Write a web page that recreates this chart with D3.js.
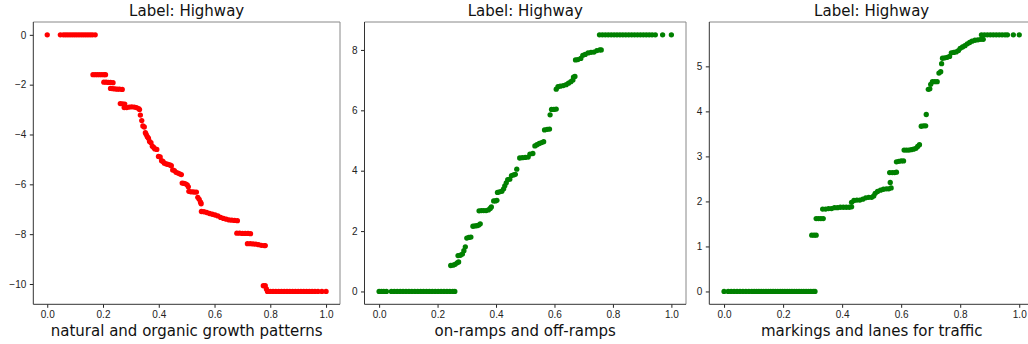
<!DOCTYPE html>
<html>
<head>
<meta charset="utf-8">
<script src="https://cdn.jsdelivr.net/npm/d3@7"></script>
<style>
    body { margin: 0; background: #fff; }
    svg { display: block; font-family: 'DejaVu Sans', sans-serif; }
    .tick text { fill: #222; font-size: 10px; }
    .tick line { stroke: #222; }
</style>
</head>
<body>
<div class="container"></div>
<script>
const title = 'Label: Highway'
const features = ['natural and organic growth patterns', 'on-ramps and off-ramps', 'markings and lanes for traffic']
const colours = ['#ff0000', '#008000', '#008000']
const xTicks = [0, 0.2, 0.4, 0.6, 0.8, 1.0]
const yTicksGrowth = [0, -2, -4, -6, -8, -10]
const yTicksRamps = [0, 2, 4, 6, 8]
const yTicksLanes = [0, 1, 2, 3, 4, 5]

// [feature value, effect] pairs
const growthPoints = [
    [0, 0],
    [0.047, 0], [0.058, 0], [0.066, 0], [0.074, 0], [0.082, 0], [0.09, 0], [0.098, 0], [0.106, 0], [0.114, 0], [0.122, 0], [0.13, 0], [0.138, 0], [0.146, 0], [0.154, 0], [0.162, 0], [0.172, 0],
    [0.164, -1.6], [0.172, -1.6], [0.18, -1.6], [0.188, -1.6], [0.196, -1.6], [0.204, -1.6], [0.209, -1.6],
    [0.203, -1.9], [0.211, -1.9], [0.219, -1.91], [0.227, -1.91], [0.236, -1.92],
    [0.227, -2.15], [0.235, -2.16], [0.243, -2.17], [0.251, -2.18], [0.259, -2.18], [0.269, -2.19],
    [0.262, -2.76], [0.27, -2.77], [0.278, -2.78],
    [0.276, -2.92], [0.285, -2.92], [0.294, -2.9], [0.303, -2.89], [0.312, -2.9], [0.32, -2.92], [0.328, -2.96], [0.331, -3.0],
    [0.334, -3.22], [0.339, -3.44], [0.343, -3.66], [0.348, -3.7], [0.352, -3.93], [0.355, -4.0], [0.359, -4.09], [0.363, -4.15],
    [0.367, -4.28], [0.372, -4.33], [0.377, -4.47], [0.382, -4.52], [0.386, -4.58], [0.393, -4.6], [0.399, -4.88], [0.405, -4.9],
    [0.41, -5.05], [0.415, -5.08], [0.42, -5.15], [0.427, -5.18], [0.433, -5.2], [0.44, -5.22], [0.445, -5.25], [0.45, -5.42],
    [0.456, -5.45], [0.462, -5.52], [0.469, -5.55], [0.475, -5.58], [0.481, -5.61],
    [0.484, -5.95], [0.49, -5.96], [0.496, -5.98], [0.502, -6.02], [0.506, -6.1], [0.508, -6.28], [0.515, -6.3], [0.522, -6.3],
    [0.528, -6.31], [0.535, -6.31], [0.54, -6.52], [0.545, -6.6], [0.55, -6.72], [0.552, -6.78],
    [0.553, -7.09], [0.562, -7.1], [0.572, -7.13], [0.582, -7.17], [0.592, -7.2], [0.602, -7.23], [0.612, -7.27], [0.622, -7.33],
    [0.632, -7.37], [0.642, -7.4], [0.652, -7.43], [0.662, -7.44], [0.672, -7.45], [0.682, -7.46],
    [0.68, -7.96], [0.69, -7.96], [0.7, -7.97], [0.71, -7.97], [0.72, -7.97], [0.729, -7.98],
    [0.718, -8.38], [0.728, -8.38], [0.738, -8.39], [0.748, -8.4], [0.758, -8.42], [0.768, -8.45], [0.778, -8.46], [0.782, -8.46],
    [0.775, -10.07], [0.782, -10.07], [0.786, -10.2],
    [0.79, -10.3], [0.8, -10.3], [0.81, -10.3], [0.82, -10.3], [0.83, -10.3], [0.84, -10.3], [0.85, -10.3], [0.86, -10.3],
    [0.87, -10.3], [0.88, -10.3], [0.89, -10.3], [0.9, -10.3], [0.91, -10.3], [0.92, -10.3], [0.93, -10.3], [0.94, -10.3],
    [0.95, -10.3], [0.96, -10.3], [0.971, -10.3], [0.985, -10.3], [1.0, -10.3]
]

const rampsPoints = [
    [0, 0], [0.008, 0], [0.016, 0], [0.025, 0],
    [0.042, 0], [0.052, 0], [0.062, 0], [0.072, 0], [0.082, 0], [0.092, 0], [0.102, 0], [0.112, 0], [0.122, 0], [0.132, 0],
    [0.142, 0], [0.152, 0], [0.162, 0], [0.172, 0], [0.182, 0], [0.192, 0], [0.202, 0], [0.212, 0], [0.222, 0], [0.232, 0],
    [0.242, 0], [0.252, 0], [0.259, 0],
    [0.245, 0.86], [0.253, 0.87], [0.26, 0.9], [0.267, 0.95], [0.272, 0.98],
    [0.27, 1.19], [0.278, 1.2], [0.285, 1.24], [0.29, 1.35], [0.295, 1.48],
    [0.3, 1.77], [0.307, 1.79], [0.314, 1.8],
    [0.321, 2.16], [0.328, 2.17], [0.335, 2.18], [0.341, 2.2], [0.346, 2.24],
    [0.342, 2.67], [0.35, 2.68], [0.358, 2.68], [0.366, 2.68], [0.374, 2.7], [0.38, 2.75], [0.384, 2.8],
    [0.392, 3.0], [0.398, 3.0], [0.403, 3.02],
    [0.405, 3.28], [0.412, 3.3], [0.42, 3.32], [0.426, 3.4], [0.43, 3.5], [0.435, 3.6], [0.44, 3.7], [0.447, 3.72],
    [0.453, 3.84], [0.46, 3.86], [0.466, 3.88], [0.471, 4.05],
    [0.481, 4.42], [0.49, 4.43], [0.5, 4.44], [0.51, 4.45], [0.516, 4.55], [0.526, 4.57],
    [0.533, 4.82], [0.54, 4.86], [0.548, 4.9], [0.556, 4.93], [0.563, 4.96],
    [0.566, 5.35], [0.575, 5.37], [0.583, 5.38],
    [0.585, 5.85],
    [0.59, 6.03], [0.598, 6.03], [0.606, 6.04],
    [0.606, 6.7], [0.612, 6.78], [0.62, 6.8], [0.63, 6.82], [0.64, 6.85], [0.648, 6.9], [0.656, 6.95], [0.663, 7.0],
    [0.665, 7.1], [0.67, 7.12],
    [0.672, 7.67], [0.68, 7.68], [0.69, 7.72], [0.697, 7.82], [0.705, 7.85], [0.715, 7.9], [0.725, 7.92], [0.735, 7.93],
    [0.745, 7.98], [0.755, 8.0], [0.76, 8.0],
    [0.754, 8.5], [0.764, 8.5], [0.774, 8.5], [0.784, 8.5], [0.794, 8.5], [0.804, 8.5], [0.814, 8.5], [0.824, 8.5],
    [0.834, 8.5], [0.844, 8.5], [0.854, 8.5], [0.864, 8.5], [0.874, 8.5], [0.884, 8.5], [0.894, 8.5], [0.904, 8.5],
    [0.914, 8.5], [0.924, 8.5], [0.934, 8.5], [0.945, 8.5], [0.97, 8.5], [1.0, 8.5]
]

const lanesPoints = [
    [0, 0], [0.014, 0], [0.024, 0], [0.034, 0], [0.044, 0], [0.054, 0], [0.064, 0], [0.074, 0], [0.084, 0], [0.094, 0],
    [0.102, 0], [0.11, 0], [0.118, 0], [0.126, 0], [0.134, 0], [0.142, 0], [0.15, 0], [0.158, 0], [0.166, 0], [0.174, 0],
    [0.182, 0], [0.19, 0], [0.198, 0], [0.206, 0], [0.214, 0], [0.222, 0], [0.23, 0], [0.238, 0], [0.246, 0], [0.254, 0],
    [0.262, 0], [0.27, 0], [0.278, 0], [0.286, 0], [0.294, 0], [0.302, 0], [0.308, 0],
    [0.297, 1.25], [0.305, 1.25], [0.312, 1.25],
    [0.312, 1.62], [0.32, 1.62], [0.328, 1.62], [0.336, 1.62],
    [0.334, 1.83], [0.344, 1.83], [0.354, 1.84], [0.364, 1.84], [0.374, 1.86], [0.384, 1.86], [0.394, 1.87], [0.404, 1.87],
    [0.414, 1.87], [0.424, 1.87], [0.432, 1.88],
    [0.432, 1.98], [0.44, 2.02], [0.45, 2.03], [0.46, 2.03], [0.47, 2.05], [0.48, 2.08], [0.49, 2.09], [0.5, 2.09], [0.507, 2.12],
    [0.512, 2.18], [0.52, 2.22], [0.53, 2.25], [0.54, 2.27], [0.55, 2.28], [0.558, 2.28], [0.566, 2.3],
    [0.563, 2.42],
    [0.561, 2.64], [0.57, 2.64], [0.578, 2.64], [0.584, 2.65],
    [0.584, 2.88], [0.592, 2.89], [0.6, 2.9], [0.608, 2.9],
    [0.61, 3.14], [0.618, 3.14], [0.626, 3.14], [0.634, 3.15], [0.642, 3.16], [0.65, 3.18], [0.656, 3.22], [0.662, 3.26],
    [0.668, 3.67], [0.676, 3.68], [0.683, 3.68],
    [0.685, 3.93],
    [0.692, 4.49], [0.697, 4.5], [0.7, 4.6], [0.706, 4.66], [0.714, 4.66], [0.722, 4.66],
    [0.728, 4.85], [0.734, 4.88],
    [0.737, 5.06],
    [0.74, 5.18], [0.748, 5.19], [0.756, 5.2], [0.764, 5.22],
    [0.77, 5.3], [0.778, 5.31], [0.786, 5.32], [0.794, 5.35],
    [0.8, 5.4], [0.808, 5.43], [0.816, 5.46], [0.824, 5.5], [0.832, 5.53],
    [0.84, 5.56], [0.85, 5.58], [0.86, 5.59], [0.87, 5.6], [0.878, 5.6],
    [0.872, 5.7], [0.882, 5.7], [0.892, 5.7], [0.902, 5.7], [0.912, 5.7], [0.922, 5.7], [0.932, 5.7], [0.942, 5.7],
    [0.952, 5.7], [0.96, 5.7], [0.98, 5.7], [1.0, 5.7]
]

let width = 1028
let height = 344

// axes boxes in page pixels
let panels = [
    { points: growthPoints, yTicks: yTicksGrowth, left: 33.3, right: 340, top: 22, bottom: 304.3 },
    { points: rampsPoints, yTicks: yTicksRamps, left: 364.5, right: 686, top: 22, bottom: 304.3 },
    { points: lanesPoints, yTicks: yTicksLanes, left: 709.3, right: 1034, top: 22, bottom: 304.3 }
]

let svg = d3.select('.container')
    .append('svg')
    .attr('width', width)
    .attr('height', height)

// matplotlib style 5% padding around the data extent
function padded(extent) {
    let pad = (extent[1] - extent[0]) * 0.05
    return [extent[0] - pad, extent[1] + pad]
}

panels.forEach((p, i) => {
    let g = svg.append('g')

    let xScale = d3.scaleLinear()
        .domain(padded(d3.extent(p.points, (d) => d[0])))
        .range([p.left, p.right])

    let yScale = d3.scaleLinear()
        .domain(padded(d3.extent(p.points, (d) => d[1])))
        .range([p.bottom, p.top])

    g.selectAll('circle')
        .data(p.points)
        .enter()
        .append('circle')
        .attr('cx', (d) => xScale(d[0]))
        .attr('cy', (d) => yScale(d[1]))
        .attr('r', 2.65)
        .attr('fill', colours[i])

    let xAxis = d3.axisBottom(xScale)
        .tickValues(xTicks)
        .tickFormat(d3.format('.1f'))
        .tickSize(3.5)
        .tickPadding(3.5)

    let yAxis = d3.axisLeft(yScale)
        .tickValues(p.yTicks)
        .tickFormat(d3.format('d'))
        .tickSize(3.5)
        .tickPadding(3.5)

    g.append('g')
        .attr('transform', `translate(0,${p.bottom})`)
        .call(xAxis)
        .call((a) => a.select('.domain').remove())

    g.append('g')
        .attr('transform', `translate(${p.left},0)`)
        .call(yAxis)
        .call((a) => a.select('.domain').remove())

    g.selectAll('.tick text').attr('font-family', null).attr('font-size', null)

    // frame: top and right lighter, left and bottom dark
    g.append('line')
        .attr('x1', p.left).attr('x2', p.right)
        .attr('y1', p.top).attr('y2', p.top)
        .attr('stroke', '#888')
    g.append('line')
        .attr('x1', p.right).attr('x2', p.right)
        .attr('y1', p.top).attr('y2', p.bottom)
        .attr('stroke', '#888')
    g.append('line')
        .attr('x1', p.left).attr('x2', p.left)
        .attr('y1', p.top).attr('y2', p.bottom)
        .attr('stroke', '#333')
    g.append('line')
        .attr('x1', p.left).attr('x2', p.right)
        .attr('y1', p.bottom).attr('y2', p.bottom)
        .attr('stroke', '#333')

    g.append('text')
        .attr('x', (p.left + p.right) / 2)
        .attr('y', 16)
        .attr('text-anchor', 'middle')
        .attr('font-size', '15px')
        .attr('fill', '#111')
        .text(title)

    g.append('text')
        .attr('x', (p.left + p.right) / 2)
        .attr('y', 336)
        .attr('text-anchor', 'middle')
        .attr('font-size', '15px')
        .attr('fill', '#111')
        .text(features[i])
})
</script>
</body>
</html>
